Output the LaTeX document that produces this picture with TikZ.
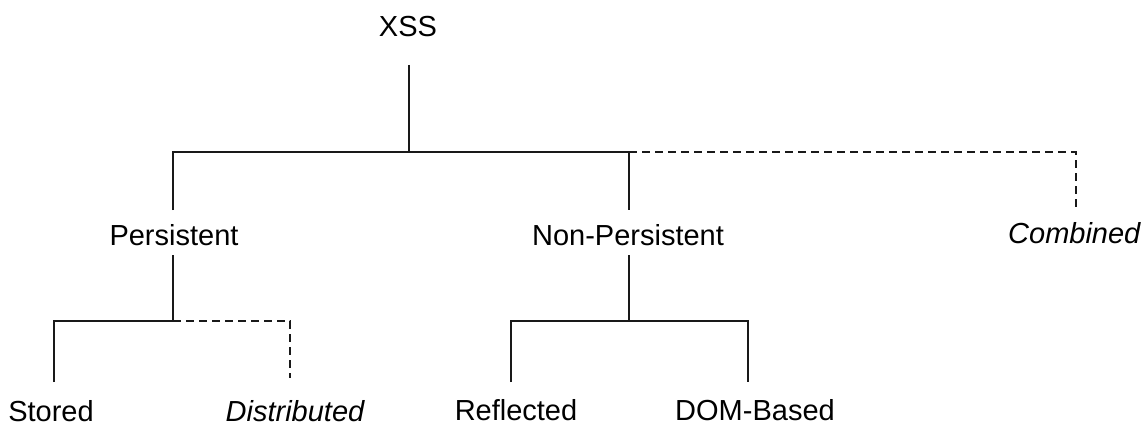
\documentclass[tikz,border=0pt]{standalone}
\usepackage{fontspec}
\setmainfont{Liberation Sans}
\begin{document}
\begin{tikzpicture}[x=1pt,y=-1pt,
  lbl/.style={inner sep=0pt,anchor=base,font=\fontsize{29}{32}\selectfont},
  ilbl/.style={lbl,font=\fontsize{29}{32}\selectfont\itshape},
  solidline/.style={line width=2.5pt,line cap=butt,color=black!90},
  dashline/.style={line width=2.5pt,dash pattern=on 8pt off 5pt,color=black!90}]
\useasboundingbox (0,0) rectangle (1142,425);
% labels
\node[lbl] (xss) at (408,37) {XSS};
\node[lbl] (pers) at (174,245) {Persistent};
\node[lbl] (npers) at (628,245) {Non-Persistent};
\node[ilbl,anchor=base west] (comb) at (1008,243) {Combined};
\node[lbl] (stored) at (51,421) {Stored};
\node[ilbl] (distr) at (295,421) {Distributed};
\node[lbl] (refl) at (516,420) {Reflected};
\node[lbl] (dom) at (755,420) {DOM-Based};
% junction coordinates
\coordinate (xssStem) at (409,65);
\coordinate (j0) at (409,152);
\coordinate (persTop) at (173,210);
\coordinate (npersTop) at (629,210);
\coordinate (combTop) at (1076,210);
\coordinate (persBot) at (173,255);
\coordinate (j1) at (173,321);
\coordinate (storedTop) at (54,382);
\coordinate (distrTop) at (290,378);
\coordinate (npersBot) at (629,255);
\coordinate (j2) at (629,321);
\coordinate (reflTop) at (511,382);
\coordinate (domTop) at (748,382);
% connectors
\draw[solidline] (xssStem) -- (j0);
\draw[solidline] (persTop) |- (npersTop |- j0) -- (npersTop);
\draw[dashline] (npersTop |- j0) -| (combTop);
\draw[solidline] (persBot) -- (j1);
\draw[solidline] (storedTop) |- (j1);
\draw[dashline] (j1) -| (distrTop);
\draw[solidline] (npersBot) -- (j2);
\draw[solidline] (reflTop) |- (domTop |- j2) -- (domTop);
\end{tikzpicture}
\end{document}
